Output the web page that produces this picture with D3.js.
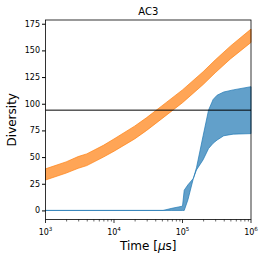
<!DOCTYPE html>
<html>
<head>
<meta charset="utf-8">
<script src="https://cdn.jsdelivr.net/npm/d3@7"></script>
<style>
    body { margin: 0; background: #fff; }
    text { font-family: "DejaVu Sans", sans-serif; fill: #000; }
</style>
</head>
<body>
<div id="chart"></div>
<script>
// Orange band (time in µs, diversity bounds)
const orangeTime = [1e3, 2e3, 3e3, 4e3, 7e3, 1e4, 2e4, 3e4, 5e4, 1e5, 2e5, 3e5, 5e5, 1e6]
const orangeUpper = [39, 45.5, 50.5, 53, 61, 67, 79, 87, 98, 113, 130, 141, 154, 170]
const orangeLower = [28.5, 35, 39.5, 42, 50, 55.5, 67, 75, 86, 101, 118, 129, 142, 157.5]

// Blue band
const blueTime = [1e3, 5.2e4, 7e4, 1.0e5, 1.06e5, 1.2e5, 1.44e5, 1.6e5, 2.0e5, 2.4e5, 2.8e5, 3.2e5, 4e5, 5.5e5, 1e6]
const blueUpper = [0, 0, 2, 4, 19, 24, 30, 40, 70, 94, 104, 108, 111, 113, 116]
const blueLower = [0, 0, 0, 0, 0, 10, 30, 38, 47.5, 58, 63, 66, 70, 71.5, 72]

const refLevel = 94
const yTicks = [0, 25, 50, 75, 100, 125, 150, 175]
const xTicks = [1e3, 1e4, 1e5, 1e6]

const svgWidth = 266, svgHeight = 259
const margin = { top: 20, right: 15, bottom: 39.5, left: 45.5 }
const width = svgWidth - margin.left - margin.right
const height = svgHeight - margin.top - margin.bottom

const svg = d3.select("#chart")
    .append("svg")
    .attr("width", svgWidth)
    .attr("height", svgHeight)

const chartGroup = svg.append("g")
    .attr("transform", `translate(${margin.left}, ${margin.top})`)

const xScale = d3.scaleLog()
    .domain([1e3, 1e6])
    .range([0, width])

const yScale = d3.scaleLinear()
    .domain([-8.5, 178.5])
    .range([height, 0])

// Bands
const band = (times, lo, hi) => d3.area()
    .x((d, i) => xScale(times[i]))
    .y0((d, i) => yScale(lo[i]))
    .y1((d, i) => yScale(hi[i]))(times)

chartGroup.append("path")
    .attr("d", band(blueTime, blueLower, blueUpper))
    .attr("fill", "#1f77b4")
    .attr("fill-opacity", 0.7)
    .attr("stroke", "#1f77b4")
    .attr("stroke-opacity", 0.7)
    .attr("stroke-width", 1)

chartGroup.append("path")
    .attr("d", band(orangeTime, orangeLower, orangeUpper))
    .attr("fill", "#ff7f0e")
    .attr("fill-opacity", 0.7)
    .attr("stroke", "#ff7f0e")
    .attr("stroke-opacity", 0.7)
    .attr("stroke-width", 1)

// Reference line
chartGroup.append("line")
    .attr("x1", 0).attr("x2", width)
    .attr("y1", yScale(refLevel)).attr("y2", yScale(refLevel))
    .attr("stroke", "#000")
    .attr("stroke-width", 1)

// Y axis
const yAxis = d3.axisLeft(yScale)
    .tickValues(yTicks)
    .tickSize(3.5)
    .tickPadding(2)

chartGroup.append("g")
    .call(yAxis)
    .call(g => g.select(".domain").remove())
    .selectAll("text")
    .attr("font-size", 8)
    .attr("font-family", "DejaVu Sans")

// X axis: minor then major ticks
const xGroup = chartGroup.append("g")
    .attr("transform", `translate(0, ${height})`)

const minor = []
for (let e = 3; e < 6; e++) for (let m = 2; m < 10; m++) minor.push(m * Math.pow(10, e))

xGroup.call(d3.axisBottom(xScale).tickValues(minor).tickSize(2).tickFormat(""))
    .call(g => g.select(".domain").remove())
    .selectAll("line").attr("stroke-width", 0.6)

const majorTicks = xGroup.append("g")
majorTicks.selectAll("line")
    .data(xTicks)
    .enter()
    .append("line")
    .attr("x1", d => xScale(d)).attr("x2", d => xScale(d))
    .attr("y1", 0).attr("y2", 3.5)
    .attr("stroke", "#000")
    .attr("stroke-width", 0.8)

const labels = majorTicks.selectAll("text")
    .data(xTicks)
    .enter()
    .append("text")
    .attr("x", d => xScale(d))
    .attr("y", 15)
    .attr("text-anchor", "middle")
    .attr("font-size", 8)
labels.append("tspan").text("10")
labels.append("tspan")
    .attr("dy", -3.5)
    .attr("font-size", 5.6)
    .text(d => Math.round(Math.log10(d)))

// Frame
chartGroup.append("rect")
    .attr("width", width)
    .attr("height", height)
    .attr("fill", "none")
    .attr("stroke", "#000")
    .attr("stroke-width", 0.8)

// Title and axis labels
svg.append("text")
    .attr("x", margin.left + width / 2)
    .attr("y", 15)
    .attr("text-anchor", "middle")
    .attr("font-size", 10)
    .text("AC3")

svg.append("text")
    .attr("transform", `translate(16, ${margin.top + height / 2}) rotate(-90)`)
    .attr("text-anchor", "middle")
    .attr("font-size", 12)
    .text("Diversity")

const xLabel = svg.append("text")
    .attr("x", margin.left + width / 2)
    .attr("y", 250)
    .attr("text-anchor", "middle")
    .attr("font-size", 12)
xLabel.append("tspan").text("Time [")
xLabel.append("tspan").attr("font-style", "italic").text("μ")
xLabel.append("tspan").text("s]")
</script>
</body>
</html>
